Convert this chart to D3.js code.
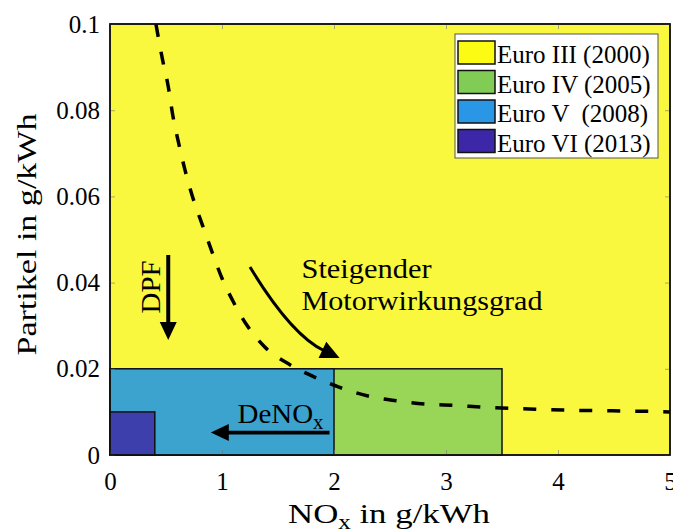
<html>

<head>
  <script src="https://d3js.org/d3.v7.min.js"></script>

  <style>
    body {
      margin: 0px;
      background: white;
    }

    text {
      font-family: "Liberation Serif", serif;
      fill: black;
    }

    .tick line {
      stroke: #777;
      stroke-opacity: 0.6;
    }

    .axis .domain {
      stroke: none;
    }

    .legend text {
      font-size: 25px;
      white-space: pre;
    }
  </style>

</head>

<body>
  <svg id="chart" height="530" width="673"></svg>

  <script>
    // emission limits (NOx g/kWh, particles g/kWh)
    const stages = ["Euro III (2000)", "Euro IV (2005)", "Euro V  (2008)", "Euro VI (2013)"];
    const noxLimit = [5, 3.5, 2, 0.4];
    const pmLimit = [0.1, 0.02, 0.02, 0.01];
    const plotColors = ["#f9f83e", "#99d658", "#3ba3cd", "#3d3fad"];
    const legendColors = ["#fbfb14", "#80cc55", "#2a96e6", "#3b27a8"];

    // dashed trade-off curve
    const curveNox = [0.41, 0.47, 0.52, 0.56, 0.61, 0.67, 0.73, 0.83, 0.91, 1.0, 1.10, 1.22, 1.38, 1.61, 1.85,
      2.05, 2.32, 2.58, 2.83, 3.08, 3.33, 3.59, 3.84, 4.09, 4.35, 4.6, 4.85, 5.0];
    const curvePm = [0.1, 0.0916, 0.0855, 0.0789, 0.0727, 0.0661, 0.0605, 0.053, 0.0472, 0.041, 0.0356, 0.0302, 0.0251,
      0.0209, 0.0178, 0.0157, 0.0136, 0.0125, 0.0118, 0.0115, 0.0111, 0.0108, 0.0106, 0.0104, 0.0103, 0.0102, 0.0101, 0.0100];

    const xTicks = [0, 1, 2, 3, 4, 5];
    const yTicks = [0, 0.02, 0.04, 0.06, 0.08, 0.1];
    const yTickLabels = ["0", "0.02", "0.04", "0.06", "0.08", "0.1"];

    const svg = d3.select("svg#chart");

    const width = svg.attr("width");
    const height = svg.attr("height");
    const margin = { top: 24, right: 3, bottom: 75, left: 110 };

    const chartWidth = width - margin.left - margin.right;
    const chartHeight = height - margin.top - margin.bottom;

    const xScale = d3.scaleLinear().domain([0, 5]).range([0, chartWidth]);
    const yScale = d3.scaleLinear().domain([0, 0.1]).range([chartHeight, 0]);

    let chartArea = svg.append("g")
      .attr("transform", "translate(" + margin.left + "," + margin.top + ")");

    // limit boxes, largest first
    stages.forEach((s, i) => {
      chartArea.append("rect")
        .attr("x", xScale(0))
        .attr("y", yScale(pmLimit[i]))
        .attr("width", xScale(noxLimit[i]) - xScale(0))
        .attr("height", yScale(0) - yScale(pmLimit[i]))
        .attr("fill", plotColors[i])
        .attr("stroke", "#111")
        .attr("stroke-width", 1.5);
    });

    // ticks all round, pointing inwards
    function styleAxis(g) {
      g.attr("font-family", "Liberation Serif").attr("font-size", 25);
      g.selectAll("text").style("font-family", "'Liberation Serif', serif").style("font-size", "25px");
    }

    chartArea.append("g").attr("class", "axis")
      .attr("transform", "translate(0," + chartHeight + ")")
      .call(d3.axisBottom(xScale).tickValues(xTicks).tickFormat(d3.format("d"))
        .tickSize(-5).tickPadding(17).tickSizeOuter(0))
      .call(styleAxis);
    chartArea.append("g").attr("class", "axis")
      .call(d3.axisTop(xScale).tickValues(xTicks).tickSize(-5).tickFormat("").tickSizeOuter(0));
    chartArea.append("g").attr("class", "axis")
      .call(d3.axisLeft(yScale).tickValues(yTicks).tickFormat((d, i) => yTickLabels[i])
        .tickSize(-5).tickPadding(10).tickSizeOuter(0))
      .call(styleAxis);
    chartArea.append("g").attr("class", "axis")
      .attr("transform", "translate(" + chartWidth + ",0)")
      .call(d3.axisRight(yScale).tickValues(yTicks).tickSize(-5).tickFormat("").tickSizeOuter(0));

    // dashed curve
    const line = d3.line()
      .x((d, i) => xScale(curveNox[i]))
      .y((d, i) => yScale(curvePm[i]))
      .curve(d3.curveMonotoneX);

    chartArea.append("path")
      .attr("d", line(curvePm))
      .attr("fill", "none")
      .attr("stroke", "black")
      .attr("stroke-width", 3.5)
      .attr("stroke-dasharray", "13,15");

    // arrows
    function arrowHead(tip, from, len, half) {
      const dx = tip[0] - from[0], dy = tip[1] - from[1];
      const n = Math.sqrt(dx * dx + dy * dy);
      const ux = dx / n, uy = dy / n;
      const bx = tip[0] - ux * len, by = tip[1] - uy * len;
      chartArea.append("path")
        .attr("d", "M" + tip[0] + "," + tip[1] +
          "L" + (bx - uy * half) + "," + (by + ux * half) +
          "L" + (bx + uy * half) + "," + (by - ux * half) + "Z")
        .attr("fill", "black");
      return [bx + ux * 2, by + uy * 2];
    }

    function straightArrow(p0, p1, w) {
      const a = [xScale(p0[0]), yScale(p0[1])];
      const b = [xScale(p1[0]), yScale(p1[1])];
      const base = arrowHead(b, a, 18, 8.5);
      chartArea.append("line")
        .attr("x1", a[0]).attr("y1", a[1])
        .attr("x2", base[0]).attr("y2", base[1])
        .attr("stroke", "black")
        .attr("stroke-width", w);
    }

    const dpfArrow = [[0.52, 0.0464], [0.52, 0.0267]];
    const denoxArrow = [[1.96, 0.0052], [0.90, 0.0052]];
    const effArrow = [[1.25, 0.0436], [1.62, 0.0278], [2.05, 0.0225]];

    straightArrow(dpfArrow[0], dpfArrow[1], 4);
    straightArrow(denoxArrow[0], denoxArrow[1], 3.7);

    const s0 = [xScale(effArrow[0][0]), yScale(effArrow[0][1])];
    const c0 = [xScale(effArrow[1][0]), yScale(effArrow[1][1])];
    const t0 = [xScale(effArrow[2][0]), yScale(effArrow[2][1])];
    const effBase = arrowHead(t0, c0, 19, 9);
    chartArea.append("path")
      .attr("d", "M" + s0 + "Q" + c0 + " " + effBase)
      .attr("fill", "none")
      .attr("stroke", "black")
      .attr("stroke-width", 3);

    // annotation texts
    chartArea.append("text")
      .attr("transform", "translate(" + (xScale(0.45)) + "," + yScale(0.039) + ") rotate(-90)")
      .attr("text-anchor", "middle")
      .attr("font-size", "27px")
      .attr("textLength", 53)
      .attr("lengthAdjust", "spacingAndGlyphs")
      .text("DPF");

    let eff = chartArea.append("text")
      .attr("font-size", "27px");
    eff.append("tspan")
      .attr("x", xScale(1.71)).attr("y", yScale(0.0410))
      .attr("textLength", 130).attr("lengthAdjust", "spacingAndGlyphs")
      .text("Steigender");
    eff.append("tspan")
      .attr("x", xScale(1.71)).attr("y", yScale(0.0336))
      .attr("textLength", 241).attr("lengthAdjust", "spacingAndGlyphs")
      .text("Motorwirkungsgrad");

    let denox = chartArea.append("text")
      .attr("x", xScale(1.138)).attr("y", yScale(0.0074))
      .attr("font-size", "28px")
      .attr("textLength", 86)
      .attr("lengthAdjust", "spacingAndGlyphs");
    denox.append("tspan").text("DeNO");
    denox.append("tspan").attr("dy", 6).attr("font-size", "20px").text("x");

    // frame
    chartArea.append("rect")
      .attr("width", chartWidth)
      .attr("height", chartHeight)
      .attr("fill", "none")
      .attr("stroke", "#111")
      .attr("stroke-width", 1.5);

    // axis titles
    let xLabel = svg.append("text")
      .attr("x", 288)
      .attr("y", 523)
      .attr("font-size", "28px")
      .attr("textLength", 202)
      .attr("lengthAdjust", "spacingAndGlyphs");
    xLabel.append("tspan").text("NO");
    xLabel.append("tspan").attr("dy", 6).attr("font-size", "20px").text("x");
    xLabel.append("tspan").attr("dy", -6).text(" in g/kWh");

    svg.append("text")
      .attr("transform", "translate(36," + (margin.top + chartHeight / 2 - 5) + ") rotate(-90)")
      .attr("text-anchor", "middle")
      .attr("font-size", "27px")
      .attr("textLength", 242)
      .attr("lengthAdjust", "spacingAndGlyphs")
      .text("Partikel in g/kWh");

    // legend
    let legend = svg.append("g").attr("class", "legend")
      .attr("transform", "translate(455,34)");
    legend.append("rect")
      .attr("width", 203)
      .attr("height", 124)
      .attr("fill", "white")
      .attr("stroke", "#555")
      .attr("stroke-width", 1);

    stages.forEach((s, i) => {
      legend.append("rect")
        .attr("x", 3)
        .attr("y", 7 + i * 29.5)
        .attr("width", 37)
        .attr("height", 23)
        .attr("fill", legendColors[i])
        .attr("stroke", "#111")
        .attr("stroke-width", 1.5);
      legend.append("text")
        .attr("x", 42)
        .attr("y", 29 + i * 29.5)
        .text(s);
    });
  </script>

</body>

</html>
